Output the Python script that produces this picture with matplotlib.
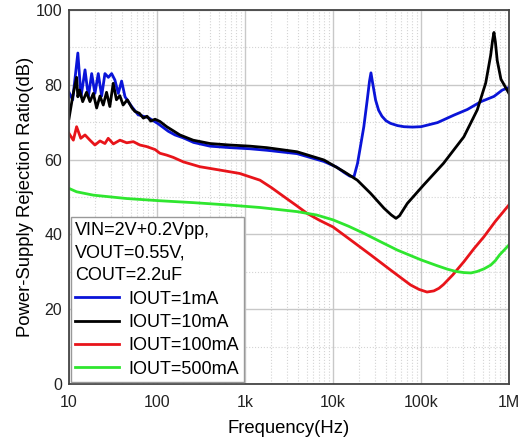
import matplotlib
matplotlib.use("Agg")
import matplotlib.pyplot as plt
import numpy as np
from matplotlib.ticker import FixedLocator, LogLocator, MultipleLocator, NullFormatter

plt.rcParams['font.family'] = ['Liberation Sans', 'DejaVu Sans']

# frequency (Hz) / PSRR (dB)
f_1ma = [10, 11, 12.6, 13.7, 15.2, 16.6, 18.1, 19.7, 21.5, 23.5, 25.6, 28, 30.5, 33.2,
         36.3, 39.6, 43.3, 51.5, 61, 80, 103, 134, 160, 200, 260, 400, 680, 1140, 1770,
         3900, 7900, 11000, 13300, 15500, 17300, 19000, 20500, 22400, 24500, 26000, 27000,
         28200, 30500, 33000, 36000, 40000, 45000, 54000, 64000, 80000, 100000,
         154000, 237000, 336000, 480000, 675000, 840000, 1000000]
db_1ma = [78, 76, 88.5, 76.8, 84, 76.8, 83, 77.7, 83, 77, 83, 82, 83, 81.3,
          77.7, 81, 76.8, 74.2, 72, 71.2, 69.6, 67.6, 66.6, 65.8, 64.6, 63.6, 63.2, 62.9, 62.5,
          61.6, 59.5, 58, 56.6, 55.6, 55.4, 59, 63.5, 68.8, 76, 81, 83.2,
          80.5, 75.9, 73.2, 71.6, 70.4, 69.7, 69.1, 68.8, 68.7, 68.8,
          69.9, 71.9, 73.4, 75.5, 76.9, 78.6, 79.3]

f_10ma = [10, 11, 12.2, 12.6, 13.2, 14.3, 15.8, 17.3, 18.9, 20.6, 22.5, 24.5, 26.7, 29.1,
          31.8, 34.6, 37.8, 41.2, 46, 52, 56, 63, 70, 77, 85, 95, 108, 129, 182, 257, 400,
          675, 1140, 1770, 3900, 7900, 13300, 18900, 26700, 38000, 46000, 52000, 57000,
          70000, 107000, 180000, 307000, 436000, 544000, 620000, 650000, 675000, 700000,
          735000, 810000, 1000000]
db_10ma = [71, 76.8, 82, 76.8, 78.6, 75.5, 78, 75.5, 77.7, 73.8, 77, 74.6, 78, 74.2,
           80.4, 76, 77.1, 74.6, 76, 73.8, 72.9, 72.4, 71.1, 71.6, 70.3, 70.8, 70.2, 68.8, 66.6,
           65.2, 64.3, 63.9, 63.6, 63.2, 62.1, 59.9, 56.8, 54.5, 51, 47, 45.2, 44.3, 45,
           48.3, 53.2, 59, 66.1, 73.3, 80.5, 88, 91.8, 94, 91.5,
           86.5, 81.5, 77.7]

f_100ma = [10, 11.2, 12.2, 13.6, 15.2, 17.3, 19.7, 22.5, 25.6, 27.9, 31.9, 37.9, 45.3,
           53.8, 64, 76, 95, 108, 129, 153, 199, 307, 520, 870, 1480, 2000, 2770, 3800,
           5100, 7000, 10000, 15900, 26900, 45000, 76000, 95000, 117000, 140000, 160000,
           180000, 230000, 307000, 400000, 520000, 700000, 1000000]
db_100ma = [67, 65.2, 68.8, 65.7, 66.6, 65.2, 63.9, 65, 64.3, 65.7, 64.2, 65.2, 64.5,
            64.8, 63.9, 63.5, 62.7, 61.7, 61.2, 60.6, 59.4, 58.1, 57.2, 56.3, 54.5, 52.5, 50.1,
            47.8, 45.6, 43.8, 42, 38.5, 34.5, 30.5, 26.5, 25.3, 24.6, 24.9, 25.6,
            26.6, 29.2, 32.7, 36.2, 39.4, 43.5, 47.9]

f_500ma = [10, 12.2, 18.9, 45, 108, 258, 620, 1480, 3900, 6500, 10000, 15000, 22400,
           35000, 54000, 100000, 150000, 200000, 250000, 307000, 370000, 436000, 520000,
           620000, 700000, 780000, 880000, 1000000]
db_500ma = [52.3, 51.4, 50.5, 49.6, 49, 48.5, 47.9, 47.2, 46.1, 45.2, 43.9, 42.2, 40.3,
            38, 35.8, 33.2, 31.7, 30.7, 30.1, 29.8, 29.7, 30.1, 30.8,
            31.8, 33, 34.5, 35.8, 37.2]

x_ticks = [10, 100, 1e3, 1e4, 1e5, 1e6]
x_labels = ['10', '100', '1k', '10k', '100k', '1M']

fig = plt.figure(figsize=(5.28, 4.45), dpi=100)
ax = fig.add_axes([0.1307, 0.137, 0.8333, 0.8405])

ax.semilogx(f_1ma, db_1ma, color='#0a14d8', lw=2.0, label='IOUT=1mA')
ax.semilogx(f_10ma, db_10ma, color='black', lw=2.0, label='IOUT=10mA')
ax.semilogx(f_100ma, db_100ma, color='#e8141a', lw=2.0, label='IOUT=100mA')
ax.semilogx(f_500ma, db_500ma, color='#2fe62f', lw=2.0, label='IOUT=500mA')

ax.set_xlim(10, 1e6)
ax.set_ylim(0, 100)
ax.xaxis.set_major_locator(FixedLocator(x_ticks))
ax.set_xticklabels(x_labels)
ax.xaxis.set_minor_locator(LogLocator(base=10, subs=np.arange(2, 10)))
ax.xaxis.set_minor_formatter(NullFormatter())
ax.yaxis.set_major_locator(MultipleLocator(20))
ax.yaxis.set_minor_locator(MultipleLocator(10))
ax.tick_params(which='both', length=0, labelsize=11.5, colors='#222222')
ax.tick_params(axis='x', pad=8)
ax.tick_params(axis='y', pad=5)

ax.grid(which='major', color='#c8c8c8', lw=1.0)
ax.grid(which='minor', color='#d4d4d4', lw=0.8, ls=':')
ax.set_axisbelow(True)
for s in ax.spines.values():
    s.set_color('#444444')
    s.set_linewidth(1.3)

ax.set_xlabel('Frequency(Hz)', fontsize=13.3, labelpad=7)
ax.set_ylabel('Power-Supply Rejection Ratio(dB)', fontsize=13.3, labelpad=1)

leg = ax.legend(title='VIN=2V+0.2Vpp,\nVOUT=0.55V,\nCOUT=2.2uF', alignment='left',
                loc='lower left', fontsize=13, title_fontsize=13, fancybox=False,
                edgecolor='#999999', framealpha=1, handlelength=2.4, handletextpad=0.55,
                labelspacing=0.35, borderaxespad=0.1, borderpad=0.25)
leg.get_frame().set_linewidth(1.0)
leg.get_title().set_linespacing(1.45)

fig.savefig('out.png', dpi=100)
